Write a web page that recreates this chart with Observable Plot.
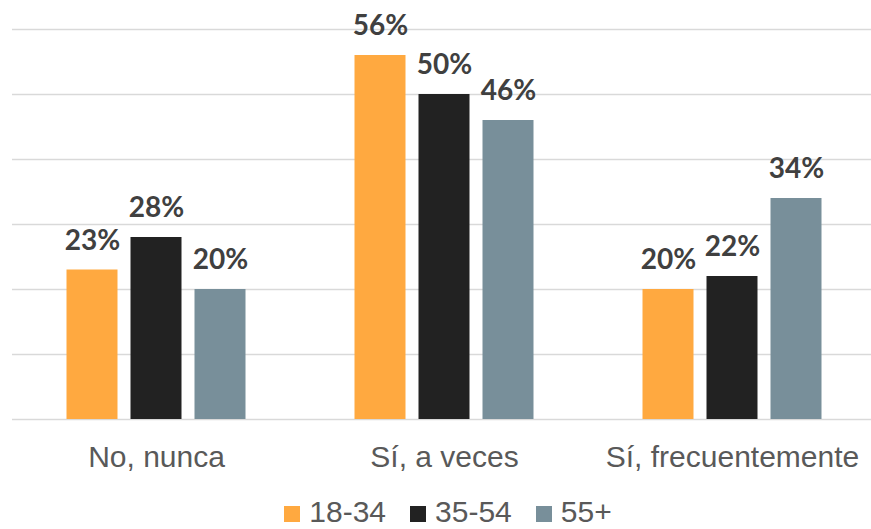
<!DOCTYPE html>
<html>
<head>
<meta charset="utf-8">
<script src="https://cdn.jsdelivr.net/npm/d3@7"></script>
<script src="https://cdn.jsdelivr.net/npm/@observablehq/plot@0.6"></script>
<style>
  html, body { margin: 0; padding: 0; background: #fff; overflow: hidden; }
  #chart svg { display: block; }
  #legend { display: flex; justify-content: center; align-items: center; padding-left: 25px; margin-top: -5px;
    font-family: "Liberation Sans", Arial, sans-serif; font-size: 30px; color: #595959; line-height: 34px; }
  #legend .item { display: flex; align-items: center; margin: 0 12px; }
  #legend .sw { width: 16px; height: 16px; margin-right: 9px; margin-top: 4px; }
</style>
</head>
<body>
<div id="chart"></div>
<div id="legend"></div>
<script>
const categories = ["No, nunca", "Sí, a veces", "Sí, frecuentemente"];
const groups = ["18-34", "35-54", "55+"];
const values1834 = [23, 56, 20];
const values3554 = [28, 50, 22];
const values55 = [20, 46, 34];
const colors = ["#FFA940", "#222222", "#788F9A"];
const gridTicks = [0, 10, 20, 30, 40, 50, 60];

const series = [values1834, values3554, values55];
const data = categories.flatMap((c, i) => groups.map((g, j) => ({category: c, group: g, value: series[j][i]})));

const chart = Plot.plot({
  width: 871,
  height: 500,
  marginTop: 29,
  marginBottom: 81,
  marginLeft: 11.5,
  marginRight: -4.5,
  style: {fontFamily: "Lato, sans-serif", background: "transparent", overflow: "visible"},
  fx: {domain: categories, padding: 0, axis: null},
  x: {domain: groups, paddingInner: 0.21, paddingOuter: 0.855, axis: null},
  y: {domain: [0, 60], axis: null},
  color: {domain: groups, range: colors},
  marks: [
    Plot.ruleY(gridTicks, {stroke: "#d9d9d9", strokeWidth: 1.5}),
    Plot.barY(data, {fx: "category", x: "group", y: "value", fill: "group"}),
    Plot.text(data, {fx: "category", x: "group", y: "value", text: d => d.value + "%",
      dy: -29, fontSize: 28, fontWeight: "bold", fill: "#404040", fontFamily: "Lato, sans-serif"}),
    Plot.text(categories, {fx: d => d, text: d => d, frameAnchor: "bottom", lineAnchor: "top", dy: 26,
      fontSize: 30, fill: "#595959", fontFamily: "'Liberation Sans', Arial, sans-serif"})
  ]
});
document.getElementById("chart").appendChild(chart);

const legend = document.getElementById("legend");
groups.forEach((g, i) => {
  const item = document.createElement("div");
  item.className = "item";
  const sw = document.createElement("span");
  sw.className = "sw";
  sw.style.background = colors[i];
  const t = document.createElement("span");
  t.textContent = g;
  item.appendChild(sw);
  item.appendChild(t);
  legend.appendChild(item);
});
</script>
</body>
</html>
